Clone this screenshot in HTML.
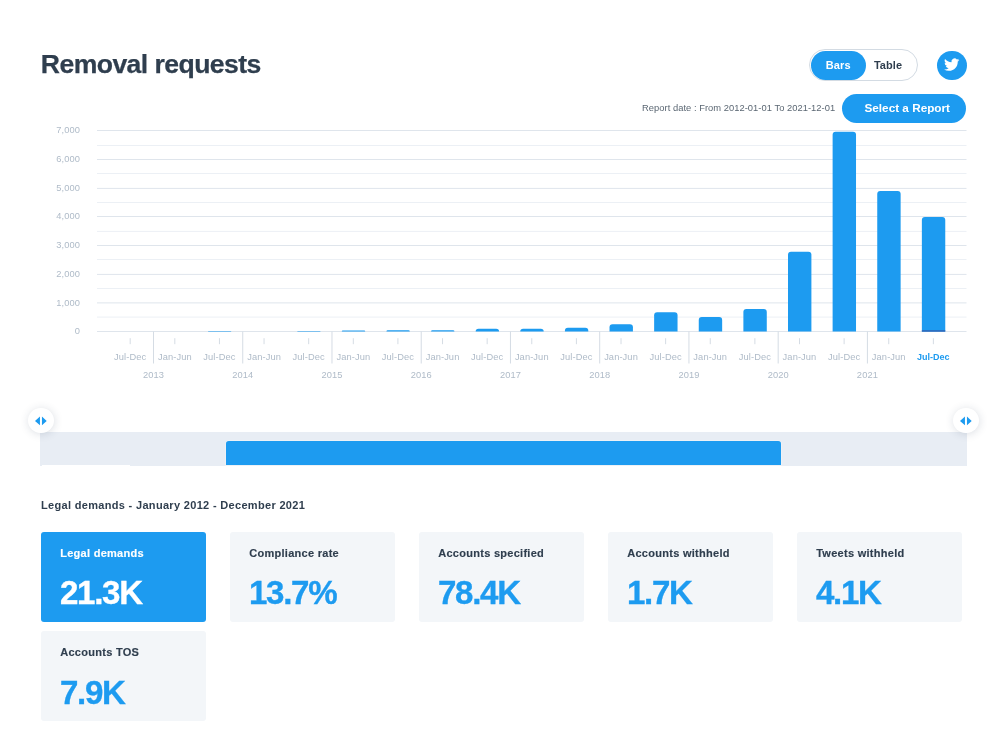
<!DOCTYPE html>
<html lang="en"><head><meta charset="utf-8"><title>Removal requests</title>
<style>
html,body{margin:0;padding:0;background:#fff}
body{width:1000px;height:732px;position:relative;overflow:hidden;font-family:"Liberation Sans",Arial,Helvetica,sans-serif;color:#2f3e4e;-webkit-font-smoothing:antialiased}
.abs{position:absolute}
h1{position:absolute;left:40.8px;top:48.5px;margin:0;font-size:26.6px;line-height:30px;font-weight:bold;color:#2f3e4e;letter-spacing:-0.57px;-webkit-text-stroke:0.25px #2f3e4e;white-space:nowrap}
.toggle{position:absolute;left:809px;top:48.5px;width:107px;height:30.5px;border:1px solid #d3dbe3;border-radius:17px;background:#fff;box-sizing:content-box}
.toggle .on{position:absolute;left:0.5px;top:1.2px;width:55.5px;height:29px;border-radius:15px;background:#1d9bf0;color:#fff;font-weight:bold;font-size:11px;line-height:29.7px;text-align:center;letter-spacing:0.1px}
.toggle .off{position:absolute;left:52px;top:1px;width:52px;height:28.5px;color:#2f3e4e;font-weight:bold;font-size:11px;line-height:28.5px;text-align:center;letter-spacing:0.05px}
.tw{position:absolute;left:937.45px;top:50.7px;width:29.3px;height:29.3px;border-radius:50%;background:#1d9bf0}
.tw svg{position:absolute;left:6.8px;top:6.65px;width:15.3px;height:15.3px}
.rd{position:absolute;left:642px;top:101.3px;letter-spacing:0.04px;font-size:9.35px;line-height:14px;color:#5b6773;white-space:nowrap}
.sel-btn{position:absolute;left:842.2px;top:93.5px;width:124px;height:29.5px;border-radius:15px;background:#1d9bf0;color:#fff;font-weight:bold;font-size:11.75px;line-height:29.5px;white-space:nowrap}
.sel-btn span{position:absolute;left:22.3px;top:-0.5px}
svg.chart{position:absolute;left:0;top:0}
.ax{font-family:"Liberation Sans",Arial,sans-serif;font-size:9.3px;letter-spacing:0.1px;fill:#afbbc8}
.ax.sel{fill:#1d9bf0;font-weight:bold;font-size:9px;letter-spacing:0}
.track{position:absolute;left:40.4px;top:432.3px;width:926.35px;height:33.4px;background:#e8edf4}
.thumb{position:absolute;left:225.85px;top:440.9px;width:555.45px;height:23.9px;background:#1d9bf0;border-radius:2.8px 2.8px 0 0;box-shadow:0 0 0 0.8px rgba(255,255,255,0.3)}
.notch{position:absolute;left:42px;top:464.9px;width:87.6px;height:1.2px;background:#fff}
.handle{position:absolute;top:407.5px;width:25.6px;height:25.6px;border-radius:50%;background:#fff;box-shadow:0.5px 1px 8px rgba(40,60,90,0.17)}
.handle svg{position:absolute;left:0;top:0}
.sh{position:absolute;left:41px;top:496.75px;font-size:11px;line-height:16px;font-weight:bold;letter-spacing:0.32px;color:#2f3e4e;white-space:nowrap}
.card{position:absolute;width:165.2px;height:89.5px;background:#f3f6f9;border-radius:3px}
.card.on{background:#1d9bf0}
.cl{position:absolute;left:19.2px;top:13.6px;font-size:11px;line-height:14px;font-weight:bold;letter-spacing:0.28px;-webkit-text-stroke:0.15px currentColor;color:#2f3e4e;white-space:nowrap}
.cv{position:absolute;left:18.9px;top:43.4px;font-size:33.1px;line-height:36px;font-weight:bold;letter-spacing:-1.25px;-webkit-text-stroke:0.35px currentColor;color:#1d9bf0;white-space:nowrap}
.card.on .cl,.card.on .cv{color:#fff}
</style></head><body>
<h1>Removal requests</h1>
<div class="toggle"><div class="on">Bars</div><div class="off">Table</div></div>
<div class="tw"><svg viewBox="0 0 24 24"><path fill="#fff" d="M23.953 4.57a10 10 0 01-2.825.775 4.958 4.958 0 002.163-2.723c-.951.555-2.005.959-3.127 1.184a4.92 4.92 0 00-8.384 4.482C7.69 8.095 4.067 6.13 1.64 3.162a4.822 4.822 0 00-.666 2.475c0 1.71.87 3.213 2.188 4.096a4.904 4.904 0 01-2.228-.616v.06a4.923 4.923 0 003.946 4.827 4.996 4.996 0 01-2.212.085 4.936 4.936 0 004.604 3.417 9.867 9.867 0 01-6.102 2.105c-.39 0-.779-.023-1.17-.067a13.995 13.995 0 007.557 2.209c9.053 0 13.998-7.496 13.998-13.985 0-.21 0-.42-.015-.63A9.935 9.935 0 0024 4.59z"/></svg></div>
<div class="rd">Report date : From 2012-01-01 To 2021-12-01</div>
<div class="sel-btn"><span>Select a Report</span></div>
<svg class="chart" width="1000" height="400" viewBox="0 0 1000 400">
<line x1="97" x2="966.5" y1="331.50" y2="331.50" stroke="#dfe5ec" stroke-width="1"/>
<text x="80" y="334.20" text-anchor="end" class="ax">0</text>
<line x1="97" x2="966.5" y1="317.10" y2="317.10" stroke="#ecf0f5" stroke-width="1"/>
<line x1="97" x2="966.5" y1="302.90" y2="302.90" stroke="#dfe5ec" stroke-width="1"/>
<text x="80" y="305.60" text-anchor="end" class="ax">1,000</text>
<line x1="97" x2="966.5" y1="288.50" y2="288.50" stroke="#ecf0f5" stroke-width="1"/>
<line x1="97" x2="966.5" y1="274.40" y2="274.40" stroke="#dfe5ec" stroke-width="1"/>
<text x="80" y="277.10" text-anchor="end" class="ax">2,000</text>
<line x1="97" x2="966.5" y1="259.50" y2="259.50" stroke="#ecf0f5" stroke-width="1"/>
<line x1="97" x2="966.5" y1="245.50" y2="245.50" stroke="#dfe5ec" stroke-width="1"/>
<text x="80" y="248.20" text-anchor="end" class="ax">3,000</text>
<line x1="97" x2="966.5" y1="231.40" y2="231.40" stroke="#ecf0f5" stroke-width="1"/>
<line x1="97" x2="966.5" y1="216.50" y2="216.50" stroke="#dfe5ec" stroke-width="1"/>
<text x="80" y="219.20" text-anchor="end" class="ax">4,000</text>
<line x1="97" x2="966.5" y1="202.50" y2="202.50" stroke="#ecf0f5" stroke-width="1"/>
<line x1="97" x2="966.5" y1="188.40" y2="188.40" stroke="#dfe5ec" stroke-width="1"/>
<text x="80" y="191.10" text-anchor="end" class="ax">5,000</text>
<line x1="97" x2="966.5" y1="173.50" y2="173.50" stroke="#ecf0f5" stroke-width="1"/>
<line x1="97" x2="966.5" y1="159.50" y2="159.50" stroke="#dfe5ec" stroke-width="1"/>
<text x="80" y="162.20" text-anchor="end" class="ax">6,000</text>
<line x1="97" x2="966.5" y1="145.50" y2="145.50" stroke="#ecf0f5" stroke-width="1"/>
<line x1="97" x2="966.5" y1="130.50" y2="130.50" stroke="#dfe5ec" stroke-width="1"/>
<text x="80" y="133.20" text-anchor="end" class="ax">7,000</text>
<path d="M207.94,331.5 V331.50 Q207.94,330.90 208.54,330.90 H230.74 Q231.34,330.90 231.34,331.50 V331.5 Z" fill="#1d9bf0"/>
<path d="M297.18,331.5 V331.50 Q297.18,330.90 297.78,330.90 H319.98 Q320.58,330.90 320.58,331.50 V331.5 Z" fill="#1d9bf0"/>
<path d="M341.80,331.5 V331.50 Q341.80,330.60 342.70,330.60 H364.30 Q365.20,330.60 365.20,331.50 V331.5 Z" fill="#1d9bf0"/>
<path d="M386.42,331.5 V331.50 Q386.42,330.15 387.77,330.15 H408.47 Q409.82,330.15 409.82,331.50 V331.5 Z" fill="#1d9bf0"/>
<path d="M431.04,331.5 V331.50 Q431.04,330.15 432.39,330.15 H453.09 Q454.44,330.15 454.44,331.50 V331.5 Z" fill="#1d9bf0"/>
<path d="M475.66,331.5 V331.50 Q475.66,328.65 478.51,328.65 H496.21 Q499.06,328.65 499.06,331.50 V331.5 Z" fill="#1d9bf0"/>
<path d="M520.28,331.5 V331.50 Q520.28,328.65 523.13,328.65 H540.83 Q543.68,328.65 543.68,331.50 V331.5 Z" fill="#1d9bf0"/>
<path d="M564.90,331.5 V330.65 Q564.90,327.65 567.90,327.65 H585.30 Q588.30,327.65 588.30,330.65 V331.5 Z" fill="#1d9bf0"/>
<path d="M609.52,331.5 V327.30 Q609.52,324.30 612.52,324.30 H629.92 Q632.92,324.30 632.92,327.30 V331.5 Z" fill="#1d9bf0"/>
<path d="M654.14,331.5 V315.30 Q654.14,312.30 657.14,312.30 H674.54 Q677.54,312.30 677.54,315.30 V331.5 Z" fill="#1d9bf0"/>
<path d="M698.76,331.5 V320.00 Q698.76,317.00 701.76,317.00 H719.16 Q722.16,317.00 722.16,320.00 V331.5 Z" fill="#1d9bf0"/>
<path d="M743.38,331.5 V312.00 Q743.38,309.00 746.38,309.00 H763.78 Q766.78,309.00 766.78,312.00 V331.5 Z" fill="#1d9bf0"/>
<path d="M788.00,331.5 V254.80 Q788.00,251.80 791.00,251.80 H808.40 Q811.40,251.80 811.40,254.80 V331.5 Z" fill="#1d9bf0"/>
<path d="M832.62,331.5 V134.70 Q832.62,131.70 835.62,131.70 H853.02 Q856.02,131.70 856.02,134.70 V331.5 Z" fill="#1d9bf0"/>
<path d="M877.24,331.5 V193.90 Q877.24,190.90 880.24,190.90 H897.64 Q900.64,190.90 900.64,193.90 V331.5 Z" fill="#1d9bf0"/>
<path d="M921.86,331.5 V220.00 Q921.86,217.00 924.86,217.00 H942.26 Q945.26,217.00 945.26,220.00 V331.5 Z" fill="#1d9bf0"/>
<rect x="921.86" y="330.2" width="23.4" height="1.5" fill="#2f66b8"/>
<line x1="130.20" x2="130.20" y1="338.2" y2="344.2" stroke="#d5dce4" stroke-width="1"/>
<text x="130.20" y="360.3" text-anchor="middle" class="ax">Jul-Dec</text>
<line x1="174.82" x2="174.82" y1="338.2" y2="344.2" stroke="#d5dce4" stroke-width="1"/>
<text x="174.82" y="360.3" text-anchor="middle" class="ax">Jan-Jun</text>
<line x1="219.44" x2="219.44" y1="338.2" y2="344.2" stroke="#d5dce4" stroke-width="1"/>
<text x="219.44" y="360.3" text-anchor="middle" class="ax">Jul-Dec</text>
<line x1="264.06" x2="264.06" y1="338.2" y2="344.2" stroke="#d5dce4" stroke-width="1"/>
<text x="264.06" y="360.3" text-anchor="middle" class="ax">Jan-Jun</text>
<line x1="308.68" x2="308.68" y1="338.2" y2="344.2" stroke="#d5dce4" stroke-width="1"/>
<text x="308.68" y="360.3" text-anchor="middle" class="ax">Jul-Dec</text>
<line x1="353.30" x2="353.30" y1="338.2" y2="344.2" stroke="#d5dce4" stroke-width="1"/>
<text x="353.30" y="360.3" text-anchor="middle" class="ax">Jan-Jun</text>
<line x1="397.92" x2="397.92" y1="338.2" y2="344.2" stroke="#d5dce4" stroke-width="1"/>
<text x="397.92" y="360.3" text-anchor="middle" class="ax">Jul-Dec</text>
<line x1="442.54" x2="442.54" y1="338.2" y2="344.2" stroke="#d5dce4" stroke-width="1"/>
<text x="442.54" y="360.3" text-anchor="middle" class="ax">Jan-Jun</text>
<line x1="487.16" x2="487.16" y1="338.2" y2="344.2" stroke="#d5dce4" stroke-width="1"/>
<text x="487.16" y="360.3" text-anchor="middle" class="ax">Jul-Dec</text>
<line x1="531.78" x2="531.78" y1="338.2" y2="344.2" stroke="#d5dce4" stroke-width="1"/>
<text x="531.78" y="360.3" text-anchor="middle" class="ax">Jan-Jun</text>
<line x1="576.40" x2="576.40" y1="338.2" y2="344.2" stroke="#d5dce4" stroke-width="1"/>
<text x="576.40" y="360.3" text-anchor="middle" class="ax">Jul-Dec</text>
<line x1="621.02" x2="621.02" y1="338.2" y2="344.2" stroke="#d5dce4" stroke-width="1"/>
<text x="621.02" y="360.3" text-anchor="middle" class="ax">Jan-Jun</text>
<line x1="665.64" x2="665.64" y1="338.2" y2="344.2" stroke="#d5dce4" stroke-width="1"/>
<text x="665.64" y="360.3" text-anchor="middle" class="ax">Jul-Dec</text>
<line x1="710.26" x2="710.26" y1="338.2" y2="344.2" stroke="#d5dce4" stroke-width="1"/>
<text x="710.26" y="360.3" text-anchor="middle" class="ax">Jan-Jun</text>
<line x1="754.88" x2="754.88" y1="338.2" y2="344.2" stroke="#d5dce4" stroke-width="1"/>
<text x="754.88" y="360.3" text-anchor="middle" class="ax">Jul-Dec</text>
<line x1="799.50" x2="799.50" y1="338.2" y2="344.2" stroke="#d5dce4" stroke-width="1"/>
<text x="799.50" y="360.3" text-anchor="middle" class="ax">Jan-Jun</text>
<line x1="844.12" x2="844.12" y1="338.2" y2="344.2" stroke="#d5dce4" stroke-width="1"/>
<text x="844.12" y="360.3" text-anchor="middle" class="ax">Jul-Dec</text>
<line x1="888.74" x2="888.74" y1="338.2" y2="344.2" stroke="#d5dce4" stroke-width="1"/>
<text x="888.74" y="360.3" text-anchor="middle" class="ax">Jan-Jun</text>
<line x1="933.36" x2="933.36" y1="338.2" y2="344.2" stroke="#d5dce4" stroke-width="1"/>
<text x="933.36" y="360.3" text-anchor="middle" class="ax sel">Jul-Dec</text>
<line x1="153.5" x2="153.5" y1="331.5" y2="363.5" stroke="#d5dce4" stroke-width="1"/>
<text x="153.5" y="378.3" text-anchor="middle" class="ax">2013</text>
<line x1="242.74" x2="242.74" y1="331.5" y2="363.5" stroke="#d5dce4" stroke-width="1"/>
<text x="242.74" y="378.3" text-anchor="middle" class="ax">2014</text>
<line x1="331.98" x2="331.98" y1="331.5" y2="363.5" stroke="#d5dce4" stroke-width="1"/>
<text x="331.98" y="378.3" text-anchor="middle" class="ax">2015</text>
<line x1="421.21999999999997" x2="421.21999999999997" y1="331.5" y2="363.5" stroke="#d5dce4" stroke-width="1"/>
<text x="421.21999999999997" y="378.3" text-anchor="middle" class="ax">2016</text>
<line x1="510.46" x2="510.46" y1="331.5" y2="363.5" stroke="#d5dce4" stroke-width="1"/>
<text x="510.46" y="378.3" text-anchor="middle" class="ax">2017</text>
<line x1="599.7" x2="599.7" y1="331.5" y2="363.5" stroke="#d5dce4" stroke-width="1"/>
<text x="599.7" y="378.3" text-anchor="middle" class="ax">2018</text>
<line x1="688.9399999999999" x2="688.9399999999999" y1="331.5" y2="363.5" stroke="#d5dce4" stroke-width="1"/>
<text x="688.9399999999999" y="378.3" text-anchor="middle" class="ax">2019</text>
<line x1="778.18" x2="778.18" y1="331.5" y2="363.5" stroke="#d5dce4" stroke-width="1"/>
<text x="778.18" y="378.3" text-anchor="middle" class="ax">2020</text>
<line x1="867.42" x2="867.42" y1="331.5" y2="363.5" stroke="#d5dce4" stroke-width="1"/>
<text x="867.42" y="378.3" text-anchor="middle" class="ax">2021</text>
</svg>
<div class="track"></div>
<div class="thumb"></div>
<div class="notch"></div>
<div class="handle" style="left:28.05px"><svg width="25.6" height="25.6" viewBox="0 0 25.6 25.6"><path fill="#1d9bf0" d="M7 12.9l4.95-4.4v8.8zM18.7 12.9l-4.75-4.4v8.8z"/></svg></div>
<div class="handle" style="left:953.4px"><svg width="25.6" height="25.6" viewBox="0 0 25.6 25.6"><path fill="#1d9bf0" d="M7 12.9l4.95-4.4v8.8zM18.7 12.9l-4.75-4.4v8.8z"/></svg></div>
<div class="sh">Legal demands - January 2012 - December 2021</div>
<div class="card on" style="left:41px;top:532.0px"><div class="cl">Legal demands</div><div class="cv">21.3K</div></div>
<div class="card" style="left:230px;top:532.0px"><div class="cl">Compliance rate</div><div class="cv">13.7%</div></div>
<div class="card" style="left:419px;top:532.0px"><div class="cl">Accounts specified</div><div class="cv">78.4K</div></div>
<div class="card" style="left:608px;top:532.0px"><div class="cl">Accounts withheld</div><div class="cv">1.7K</div></div>
<div class="card" style="left:797px;top:532.0px"><div class="cl">Tweets withheld</div><div class="cv">4.1K</div></div>
<div class="card" style="left:41px;top:631.4px"><div class="cl">Accounts TOS</div><div class="cv">7.9K</div></div>

</body></html>
